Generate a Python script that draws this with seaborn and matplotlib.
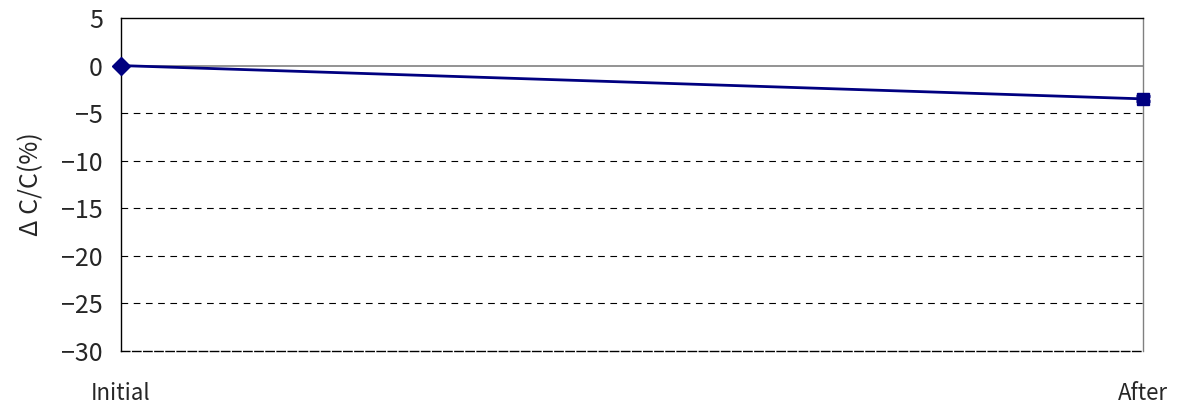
import pandas as pd
import matplotlib
matplotlib.use('Agg')
import matplotlib.pyplot as plt
import seaborn as sns

# values
stages = ['Initial', 'After']
stage_pos = [0, 1]
dc_c = [0.0, -3.5]
dc_err = [0.0, 0.25]
markers = ['D', 's']
y_ticks = [5, 0, -5, -10, -15, -20, -25, -30]

df = pd.DataFrame({'pos': stage_pos, 'stage': stages, 'dcc': dc_c, 'err': dc_err})

sns.set_style('white')
plt.rcParams['font.family'] = ['Noto Sans CJK JP', 'DejaVu Sans']

fig = plt.figure(figsize=(11.82, 4.07), dpi=100)
ax = fig.add_axes([121 / 1182, 1 - 351 / 407, (1143 - 121) / 1182, (351 - 18) / 407])

navy = '#000080'
sns.lineplot(data=df, x='pos', y='dcc', color=navy, linewidth=2, ax=ax, zorder=4)
ax.errorbar(df['pos'], df['dcc'], yerr=df['err'], fmt='none', ecolor=navy,
            elinewidth=2, capsize=5, capthick=2, zorder=5, clip_on=False)
for i, row in df.iterrows():
    ax.plot(row['pos'], row['dcc'], marker=markers[i], color=navy, markersize=9,
            linestyle='none', zorder=6, clip_on=False)

# gridlines
for t in y_ticks:
    if t == 0:
        ax.axhline(t, color='#808080', linewidth=1.2, zorder=2)
    elif t not in (5, -30):
        ax.axhline(t, color='black', linewidth=0.8, linestyle=(0, (6, 5)), zorder=2)

ax.set_xlim(0, 1)
ax.set_ylim(-30, 5)
ax.set_yticks(y_ticks)
ax.set_yticklabels([str(t).replace('-', '\u2212') for t in y_ticks], fontsize=18)
ax.set_xticks(stage_pos)
ax.set_xticklabels(stages, fontsize=16)
ax.tick_params(axis='x', length=0, pad=22)
ax.tick_params(axis='y', length=0, pad=13)
ax.set_xlabel('')
ax.set_ylabel('Δ C/C(%)', fontsize=18, labelpad=12)

ax.spines['left'].set_color('black')
ax.spines['top'].set_color('black')
ax.spines['right'].set_color('#808080')
ax.spines['bottom'].set_color('black')
ax.spines['bottom'].set_linestyle((0, (6, 2)))
for s in ax.spines.values():
    s.set_linewidth(1.0)

fig.savefig('out.png', dpi=100)
